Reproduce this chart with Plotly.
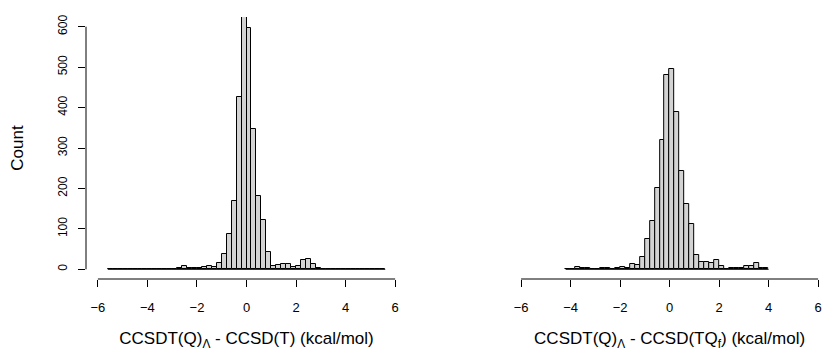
import numpy as np
import plotly.graph_objects as go
from plotly.subplots import make_subplots

# histogram bins (width 0.2 kcal/mol)
bin_width = 0.2
left_start = -5.6
left_counts = [1, 0, 0, 0, 0, 0, 0, 0, 0, 0,
               1, 0, 0, 0, 3, 7, 4, 2, 2, 5,
               7, 6, 16, 37, 87, 169, 425, 690, 596, 347,
               181, 122, 44, 8, 11, 14, 14, 6, 7, 22,
               25, 14, 2, 0, 0, 0, 0, 0, 0, 0,
               1, 0, 0, 0, 0, 1]
right_start = -4.2
right_counts = [1, 1, 5, 2, 2, 1, 1, 4, 2, 1,
                3, 6, 3, 12, 11, 30, 76, 120, 202, 320,
                480, 496, 388, 242, 162, 112, 36, 18, 19, 16,
                24, 7, 1, 2, 4, 2, 7, 8, 16, 4, 3]

x_ticks = [-6, -4, -2, 0, 2, 4, 6]
y_ticks = [0, 100, 200, 300, 400, 500, 600]
x_lim = [-6, 6]
y_lim = [0, 600]

left_title = "CCSDT(Q)<sub>Λ</sub> - CCSD(T) (kcal/mol)"
right_title = "CCSDT(Q)<sub>Λ</sub> - CCSD(TQ<sub>f</sub>) (kcal/mol)"

FONT = "Liberation Sans, Arial, Helvetica, sans-serif"
FILL = "#d3d3d3"


def pad(lim):
    # R style 4% extension of the axis range
    d = (lim[1] - lim[0]) * 0.04
    return [lim[0] - d, lim[1] + d]


fig = make_subplots(rows=1, cols=2)

for col, start, counts in [(1, left_start, left_counts), (2, right_start, right_counts)]:
    counts = np.array(counts)
    edges = start + bin_width * np.arange(len(counts) + 1)
    centers = (edges[:-1] + edges[1:]) / 2
    # zero-count bins show as a flat line in R's hist
    fig.add_trace(go.Scatter(x=[edges[0], edges[-1]], y=[0, 0], mode="lines",
                             line=dict(color="black", width=1), hoverinfo="skip",
                             showlegend=False), row=1, col=col)
    fig.add_trace(go.Bar(x=centers, y=counts, width=bin_width,
                         marker=dict(color=FILL, line=dict(color="black", width=1)),
                         showlegend=False), row=1, col=col)

# page body has an 8px margin, so the figure is 8px smaller than the window
fig.update_layout(
    width=822, height=345,
    margin=dict(l=78, r=0, t=9, b=74),
    plot_bgcolor="white", paper_bgcolor="white",
    font=dict(family=FONT, color="black", size=12),
    bargap=0,
)

fig.update_xaxes(domain=[0, 0.4315], row=1, col=1)
fig.update_xaxes(domain=[0.5688, 1], row=1, col=2)

for col, title in [(1, left_title), (2, right_title)]:
    fig.update_xaxes(range=pad(x_lim), tickvals=x_ticks, ticks="outside", ticklen=7,
                     tickcolor="black", showgrid=False, zeroline=False, showline=False,
                     tickfont=dict(size=13), ticklabelstandoff=9, automargin=False,
                     title=dict(text=title, font=dict(size=17), standoff=18),
                     row=1, col=col)
    fig.update_yaxes(range=pad(y_lim), showgrid=False, zeroline=False, showline=False,
                     automargin=False, row=1, col=col)

fig.update_yaxes(tickvals=y_ticks, ticks="outside", ticklen=7, tickcolor="black",
                 tickangle=-90, tickfont=dict(size=12), ticklabelstandoff=6,
                 title=dict(text="Count", font=dict(size=17), standoff=30),
                 row=1, col=1)
fig.update_yaxes(showticklabels=False, ticks="", row=1, col=2)

# axis lines spanning first to last tick, like R's axis()
shapes = [dict(type="line", xref="x domain", yref="y", x0=0, x1=0,
               y0=y_ticks[0], y1=y_ticks[-1], line=dict(color="black", width=1))]
for xr, yr in [("x", "y domain"), ("x2", "y2 domain")]:
    shapes.append(dict(type="line", xref=xr, yref=yr, x0=x_ticks[0], x1=x_ticks[-1],
                       y0=0, y1=0, line=dict(color="black", width=1)))
fig.update_layout(shapes=shapes)

fig.write_html("out.html")
